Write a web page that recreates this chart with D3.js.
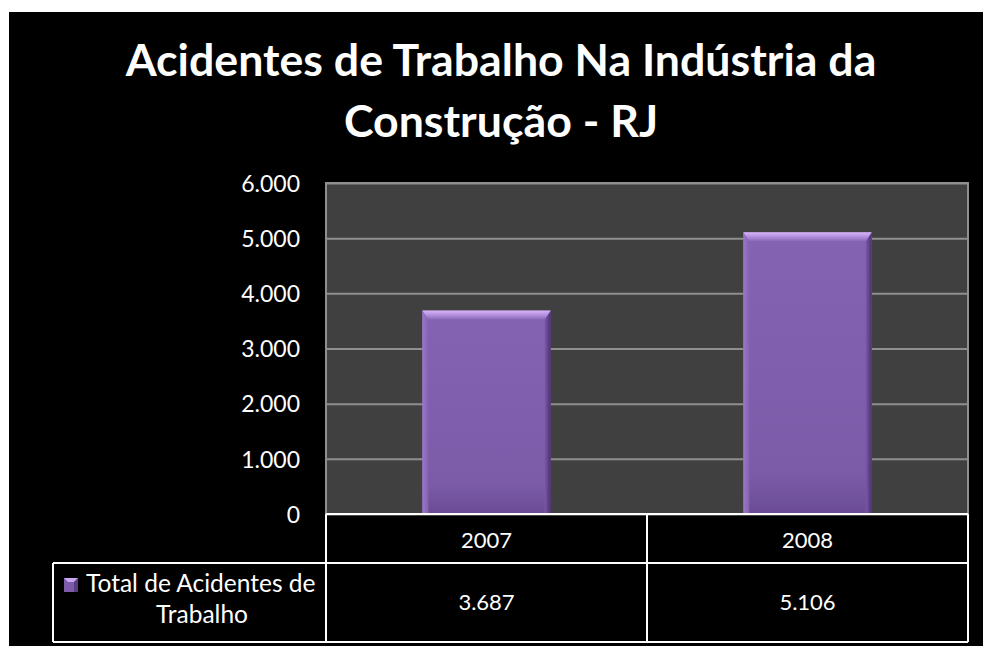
<!DOCTYPE html>
<html>
<head>
<meta charset="utf-8">
<script src="https://cdn.jsdelivr.net/npm/d3@7"></script>
<style>
  html, body { margin: 0; padding: 0; background: #fff; }
  svg { display: block; }
  text { font-family: Lato, "Open Sans", sans-serif; }
</style>
</head>
<body>
<script>
// chart data
const titleLines = ["Acidentes de Trabalho Na Indústria da", "Construção - RJ"];
const years = ["2007", "2008"];
const acidentes = [3687, 5106];
const seriesName = ["Total de Acidentes de", "Trabalho"];
const yTicks = [0, 1000, 2000, 3000, 4000, 5000, 6000];

const W = 983, H = 646;
const ptBR = d3.formatLocale({ decimal: ",", thousands: ".", grouping: [3], currency: ["R$", ""] });
const fmt = ptBR.format(",d");

const svg = d3.select("body").append("svg")
    .attr("width", W)
    .attr("height", H);

const defs = svg.append("defs");

// bevel colours for the bars
const body = defs.append("linearGradient").attr("id", "barBody")
    .attr("x1", 0).attr("y1", 0).attr("x2", 0).attr("y2", 1);
body.append("stop").attr("offset", "0%").attr("stop-color", "#8463b2");
body.append("stop").attr("offset", "85%").attr("stop-color", "#7c5ca9");
body.append("stop").attr("offset", "100%").attr("stop-color", "#6a4b93");

const topBevel = defs.append("linearGradient").attr("id", "barTop")
    .attr("x1", 0).attr("y1", 0).attr("x2", 0).attr("y2", 1);
topBevel.append("stop").attr("offset", "0%").attr("stop-color", "#d6b4f7");
topBevel.append("stop").attr("offset", "45%").attr("stop-color", "#b892e2");
topBevel.append("stop").attr("offset", "100%").attr("stop-color", "#8968b6");

const sideL = defs.append("linearGradient").attr("id", "barLeft")
    .attr("x1", 0).attr("y1", 0).attr("x2", 1).attr("y2", 0);
sideL.append("stop").attr("offset", "0%").attr("stop-color", "#9b78c8");
sideL.append("stop").attr("offset", "100%").attr("stop-color", "#8463b2");

const sideR = defs.append("linearGradient").attr("id", "barRight")
    .attr("x1", 0).attr("y1", 0).attr("x2", 1).attr("y2", 0);
sideR.append("stop").attr("offset", "0%").attr("stop-color", "#7a5aa6");
sideR.append("stop").attr("offset", "100%").attr("stop-color", "#4b3072");

// black slide background
svg.append("rect")
    .attr("x", 9).attr("y", 12)
    .attr("width", W - 9).attr("height", H - 12)
    .attr("fill", "#000");

// title, fitted to the width of the original
const titleW = [751, 292];
const titleY = [76, 137];
let titleSize = 40;
titleLines.forEach((t, i) => {
  const tx = svg.append("text")
      .attr("x", 501).attr("y", titleY[i])
      .attr("text-anchor", "middle")
      .attr("fill", "#fff")
      .attr("font-weight", "bold")
      .attr("font-size", 40)
      .text(t);
  if (i === 0) titleSize = 40 * titleW[0] / tx.node().getComputedTextLength();
  tx.attr("font-size", titleSize);
});

// plot area
const plot = { left: 326, right: 968, top: 183, bottom: 514 };

const x = d3.scaleBand()
    .domain(years)
    .range([plot.left, plot.right])
    .paddingInner(0.6)
    .paddingOuter(0.3);

const y = d3.scaleLinear()
    .domain([0, 6000])
    .range([plot.bottom, plot.top]);

svg.append("rect")
    .attr("x", plot.left).attr("y", plot.top)
    .attr("width", plot.right - plot.left)
    .attr("height", plot.bottom - plot.top)
    .attr("fill", "#404040");

const yAxis = svg.append("g")
    .attr("transform", `translate(${plot.left},0)`)
    .call(d3.axisLeft(y).tickValues(yTicks).tickFormat(fmt).tickSize(-(plot.right - plot.left)).tickPadding(26));
yAxis.select(".domain").remove();
yAxis.selectAll(".tick line")
    .attr("stroke", "#8f8f8f")
    .attr("stroke-width", 2);
yAxis.selectAll(".tick text")
    .attr("fill", "#fff")
    .attr("font-size", 23)
    .attr("font-family", "Lato, 'Open Sans', sans-serif")
    .attr("dy", "0.36em");

// plot border
svg.append("rect")
    .attr("x", plot.left).attr("y", plot.top)
    .attr("width", plot.right - plot.left)
    .attr("height", plot.bottom - plot.top)
    .attr("fill", "none")
    .attr("stroke", "#8f8f8f")
    .attr("stroke-width", 2);

// bevelled bars
const bev = 9, side = 6;
const bars = svg.append("g").selectAll("g")
    .data(years.map((d, i) => ({ year: d, value: acidentes[i] })))
    .join("g");

bars.each(function (d) {
  const g = d3.select(this);
  const x0 = x(d.year), x1 = x0 + x.bandwidth();
  const y0 = y(d.value), y1 = y(0);
  g.append("rect")
      .attr("x", x0).attr("y", y0)
      .attr("width", x1 - x0).attr("height", y1 - y0)
      .attr("fill", "url(#barBody)");
  g.append("polygon")
      .attr("points", [[x0, y0], [x0 + side, y0 + bev], [x0 + side, y1], [x0, y1]].join(" "))
      .attr("fill", "url(#barLeft)");
  g.append("polygon")
      .attr("points", [[x1, y0], [x1 - side, y0 + bev], [x1 - side, y1], [x1, y1]].join(" "))
      .attr("fill", "url(#barRight)");
  g.append("polygon")
      .attr("points", [[x0, y0], [x1, y0], [x1 - side, y0 + bev], [x0 + side, y0 + bev]].join(" "))
      .attr("fill", "url(#barTop)");
});

// data table below the plot
const row1 = { top: 514, bottom: 563 };
const row2 = { top: 563, bottom: 642 };
const legendLeft = 53;
const table = svg.append("g")
    .attr("stroke", "#fff")
    .attr("stroke-width", 2)
    .attr("fill", "none");

table.append("line").attr("x1", plot.left).attr("x2", plot.right).attr("y1", row1.top).attr("y2", row1.top);
table.append("line").attr("x1", legendLeft).attr("x2", plot.right).attr("y1", row2.top).attr("y2", row2.top);
table.append("line").attr("x1", legendLeft).attr("x2", plot.right).attr("y1", row2.bottom).attr("y2", row2.bottom);
table.append("line").attr("x1", legendLeft).attr("x2", legendLeft).attr("y1", row2.top).attr("y2", row2.bottom);
table.append("line").attr("x1", plot.right).attr("x2", plot.right).attr("y1", row1.top).attr("y2", row2.bottom);
table.append("line").attr("x1", plot.left).attr("x2", plot.left).attr("y1", row1.top).attr("y2", row2.bottom);
const mid = x("2008") - x.step() * x.paddingInner() / 2;
table.append("line").attr("x1", mid).attr("x2", mid).attr("y1", row1.top).attr("y2", row2.bottom);

svg.append("g").selectAll("text.year")
    .data(years)
    .join("text")
    .attr("class", "year")
    .attr("x", d => x(d) + x.bandwidth() / 2)
    .attr("y", 548)
    .attr("text-anchor", "middle")
    .attr("fill", "#fff")
    .attr("font-size", 22)
    .text(d => d);

svg.append("g").selectAll("text.val")
    .data(acidentes)
    .join("text")
    .attr("class", "val")
    .attr("x", (d, i) => x(years[i]) + x.bandwidth() / 2)
    .attr("y", 610)
    .attr("text-anchor", "middle")
    .attr("fill", "#fff")
    .attr("font-size", 22)
    .text(d => fmt(d));

// legend key + series name
const key = svg.append("g").attr("transform", "translate(64,578)");
key.append("rect").attr("width", 14).attr("height", 14).attr("fill", "#7c5ca9");
key.append("polygon").attr("points", "0,0 14,0 10,4 4,4").attr("fill", "#c9a6f0");
key.append("polygon").attr("points", "14,0 14,14 10,14 10,4").attr("fill", "#5a3c84");

svg.append("text")
    .attr("x", 86).attr("y", 592)
    .attr("fill", "#fff")
    .attr("font-size", 24.5)
    .text(seriesName[0]);
svg.append("text")
    .attr("x", 202).attr("y", 623)
    .attr("text-anchor", "middle")
    .attr("fill", "#fff")
    .attr("font-size", 24.5)
    .text(seriesName[1]);
</script>
</body>
</html>
